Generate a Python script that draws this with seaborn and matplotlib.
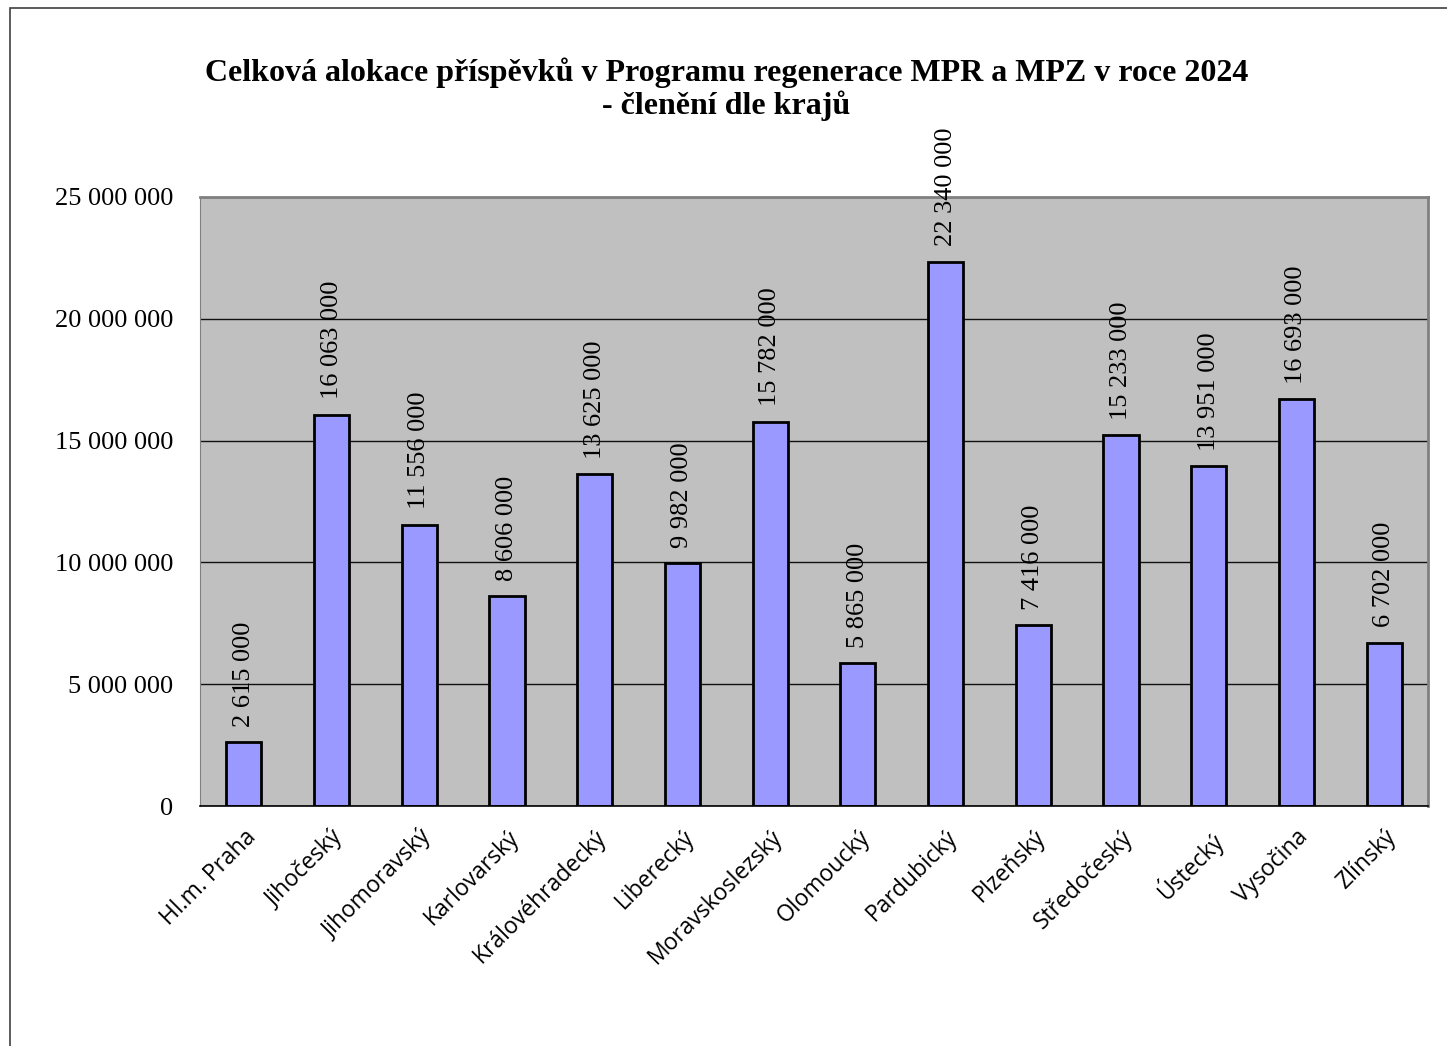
import matplotlib
matplotlib.use("Agg")
import matplotlib.pyplot as plt
import matplotlib.ticker as mticker
import seaborn as sns
import pandas as pd
from matplotlib.patches import Rectangle

# data
kraje = ["Hl.m. Praha", "Jihočeský", "Jihomoravský", "Karlovarský", "Královéhradecký",
         "Liberecký", "Moravskoslezský", "Olomoucký", "Pardubický", "Plzeňský",
         "Středočeský", "Ústecký", "Vysočina", "Zlínský"]
prispevky = [2615000, 16063000, 11556000, 8606000, 13625000, 9982000, 15782000,
             5865000, 22340000, 7416000, 15233000, 13951000, 16693000, 6702000]

title = "Celková alokace příspěvků v Programu regenerace MPR a MPZ v roce 2024\n- členění dle krajů"

df = pd.DataFrame({"kraj": kraje, "castka": prispevky})

def fmt_space(v, pos=None):
    return f"{int(v):,}".replace(",", " ")

sns.set_style("white")
plt.rcParams["font.family"] = ["Liberation Serif", "DejaVu Serif"]
plt.rcParams["text.color"] = "black"
plt.rcParams["xtick.color"] = "black"
plt.rcParams["ytick.color"] = "black"

fig = plt.figure(figsize=(14.47, 10.46), dpi=100)
ax = fig.add_axes([0.1382, 0.2294, 0.8487, 0.5823])

# outer chart frame (cut at right/bottom like the reference)
fig.patches.append(Rectangle((10 / 1447, -0.05), 1.1, 1 - 8 / 1046 + 0.05,
                             transform=fig.transFigure, fill=False,
                             edgecolor="#404040", linewidth=1.2))

ax.set_facecolor("#C0C0C0")
ax.set_axisbelow(True)
ax.yaxis.grid(True, color="#101010", linewidth=1.0)

sns.barplot(data=df, x="kraj", y="castka", color="#9999FF", width=0.4,
            edgecolor="black", linewidth=2, saturation=1, ax=ax)

for i, v in enumerate(prispevky):
    ax.annotate(fmt_space(v), (i, v), xytext=(0, 11), textcoords="offset points",
                rotation=90, ha="center", va="bottom", fontsize=19, color="black",
                family=["Liberation Serif"])

ax.set_ylim(0, 25000000)
ax.set_xlim(-0.5, len(kraje) - 0.5)
ax.yaxis.set_major_locator(mticker.MultipleLocator(5000000))
ax.yaxis.set_major_formatter(mticker.FuncFormatter(fmt_space))
ax.set_xlabel("")
ax.set_ylabel("")

# ticks on category boundaries, labels centered
ax.set_xticks([i + 0.5 for i in range(-1, len(kraje))], minor=False)
ax.set_xticklabels([""] * (len(kraje) + 1))
ax.set_xticks(range(len(kraje)), minor=True)
ax.set_xticklabels(kraje, minor=True, rotation=45, ha="right", rotation_mode="anchor",
                   fontsize=16.5, family=["Open Sans"], color="black")
ax.tick_params(axis="x", which="major", direction="out", length=8, width=1, color="black")
ax.tick_params(axis="x", which="minor", length=0, pad=14)
ax.tick_params(axis="y", direction="out", length=8, width=1, color="black",
               labelsize=19, labelcolor="black", pad=11)

for s in ["top", "right"]:
    ax.spines[s].set_color("#808080")
    ax.spines[s].set_linewidth(2)
ax.spines["left"].set_color("#808080")
ax.spines["bottom"].set_color("black")
ax.spines["bottom"].set_linewidth(1.2)

fig.text(0.502, 0.915, title, ha="center", va="center", fontsize=23, fontweight="bold",
         linespacing=1.1, color="black")

fig.savefig("out.png", dpi=100)
